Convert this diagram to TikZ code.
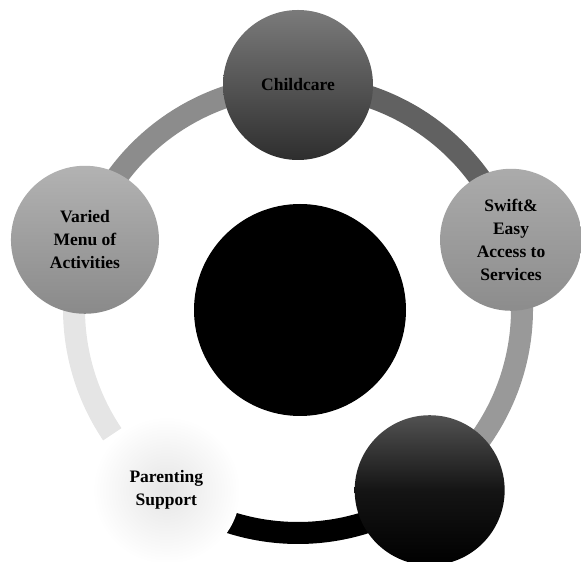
\documentclass[tikz,border=0pt]{standalone}
\usepackage{fontspec}
\setmainfont{Liberation Serif}
\usetikzlibrary{calc}
\begin{document}
\begin{tikzpicture}[x=1pt,y=1pt,
  ball/.style={circle, inner sep=0pt, align=center, text=black,
    font=\bfseries\fontsize{17.5}{23}\selectfont},
  ringseg/.style={line width=22pt},
]
\useasboundingbox (0,0) rectangle (581,562);
\coordinate (ring) at (298,253);
\coordinate (pchild) at ($(ring)+(90:224)$);
\coordinate (pswift) at ($(ring)+(18:224)$);
\coordinate (phealth) at ($(ring)+(-54:224)$);
\coordinate (pparent) at ($(ring)+(-126:224)$);
\coordinate (pvaried) at ($(ring)+(162:224)$);
\coordinate (lightend) at ($(ring)+(-146:224)$);
% ring segments
\draw[ringseg, black!62] (pchild) arc[start angle=90, end angle=18, radius=224];
\draw[ringseg, black!40] (pswift) arc[start angle=18, end angle=-54, radius=224];
\draw[ringseg, black] (phealth) arc[start angle=-54, end angle=-126, radius=224];
\draw[ringseg, black!10] (lightend) arc[start angle=-146, end angle=-198, radius=224];
\draw[ringseg, black!45] (pvaried) arc[start angle=162, end angle=90, radius=224];
% centre
\node[circle, minimum size=212pt, fill=black] (centre) at (300,252) {};
% balls
\node[ball, minimum size=150pt, top color=black!52, bottom color=black!82] (child) at (pchild) {Childcare};
\node[ball, minimum size=142pt, top color=black!33, bottom color=black!45] (swift) at (pswift) {Swift\&\\Easy\\Access to\\Services};
\node[ball, minimum size=148pt, top color=black!30, bottom color=black!46] (varied) at (pvaried) {Varied\\Menu of\\Activities};
\node[ball, minimum size=150pt, top color=black!68, bottom color=black, middle color=black!92] (health) at (phealth) {};
\node[ball, minimum size=148pt, inner color=black!10, outer color=white] (parent) at (pparent) {Parenting\\Support};
\end{tikzpicture}
\end{document}
